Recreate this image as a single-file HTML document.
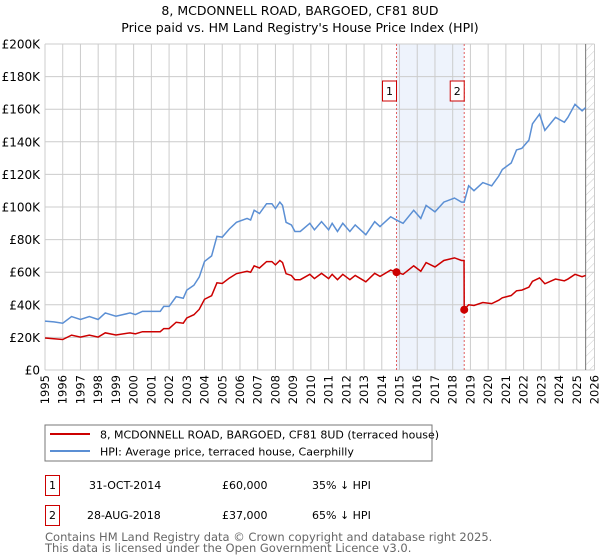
<!DOCTYPE html>
<html><head><meta charset="utf-8"><style>
body{margin:0;background:#fff;font-family:"DejaVu Sans","Liberation Sans",sans-serif;}
#wrap{position:relative;width:600px;height:560px;overflow:hidden;}
</style></head><body>
<div id="wrap">
<svg id="chart" width="600" height="560" xmlns="http://www.w3.org/2000/svg" font-family="DejaVu Sans, Liberation Sans, sans-serif">
<defs><pattern id="hatch" width="6" height="6" patternUnits="userSpaceOnUse" patternTransform="rotate(45)"><line x1="0" y1="0" x2="0" y2="6" stroke="#ccc" stroke-width="1"/></pattern></defs>
<text x="300" y="15" text-anchor="middle" font-size="12.5">8, MCDONNELL ROAD, BARGOED, CF81 8UD</text>
<text x="300" y="32" text-anchor="middle" font-size="12.5">Price paid vs. HM Land Registry's House Price Index (HPI)</text>
<g id="grid"></g><g id="series"></g><g id="axes"></g>
<rect x="45" y="425" width="387" height="36" fill="#fff" stroke="#777"/>
<line x1="50" y1="434" x2="90" y2="434" stroke="#cc0000" stroke-width="2"/>
<text x="100" y="438.5" font-size="11">8, MCDONNELL ROAD, BARGOED, CF81 8UD (terraced house)</text>
<line x1="50" y1="451" x2="90" y2="451" stroke="#5b8fd4" stroke-width="2"/>
<text x="100" y="455.5" font-size="11">HPI: Average price, terraced house, Caerphilly</text>
<g font-size="11">
<rect x="45.5" y="475.5" width="14" height="20" fill="#fff" stroke="#cc0000"/>
<text x="52.5" y="489" text-anchor="middle">1</text>
<text x="89" y="489">31-OCT-2014</text>
<text x="222" y="489">£60,000</text>
<text x="312" y="489">35% ↓ HPI</text>
<rect x="45.5" y="505.5" width="14" height="20" fill="#fff" stroke="#cc0000"/>
<text x="52.5" y="519" text-anchor="middle">2</text>
<text x="87" y="519">28-AUG-2018</text>
<text x="222" y="519">£37,000</text>
<text x="312" y="519">65% ↓ HPI</text>
</g>
<text x="45" y="541" font-size="11.5" fill="#666">Contains HM Land Registry data © Crown copyright and database right 2025.</text>
<text x="45" y="552" font-size="11.5" fill="#666">This data is licensed under the Open Government Licence v3.0.</text>
</svg>
</div>
<script>
const hpiYears=[1995,1995.5,1996,1996.5,1997,1997.5,1998,1998.4,1999,1999.8,2000.1,2000.5,2001.5,2001.7,2002,2002.4,2002.8,2003,2003.4,2003.7,2004,2004.4,2004.7,2005,2005.4,2005.8,2006.4,2006.6,2006.8,2007.1,2007.5,2007.8,2008,2008.25,2008.4,2008.6,2008.9,2009.1,2009.4,2009.94,2010.2,2010.6,2011,2011.2,2011.5,2011.8,2012.2,2012.5,2013.1,2013.6,2013.9,2014.5,2014.83,2015.2,2015.8,2016.2,2016.5,2017,2017.5,2018.1,2018.5,2018.65,2018.9,2019.2,2019.7,2020.2,2020.6,2020.8,2021.3,2021.6,2021.9,2022.3,2022.5,2022.9,2023.2,2023.8,2024.3,2024.5,2024.9,2025.3,2025.5];
const hpiValues=[30,29.5,28.7,32.8,31,32.8,31,35,33,35,34,36,36,39,39,45,44,49,52,57,66.6,70,82,81.5,86.5,90.6,93,92,98,96,102,102,99,103,101,90.6,89,85,85,90,86,91,86,90,85,90,85,89,83,91,88,94,92,90,98,93,101,97,103,105.5,103,103,113,110,115,113,119,123,127,135,136,141,151,157,147,155,152,155,163,159,161];
const priceYears=[1995,1995.5,1996,1996.5,1997,1997.5,1998,1998.4,1999,1999.8,2000.1,2000.5,2001.5,2001.7,2002,2002.4,2002.8,2003,2003.4,2003.7,2004,2004.4,2004.7,2005,2005.4,2005.8,2006.4,2006.6,2006.8,2007.1,2007.5,2007.8,2008,2008.25,2008.4,2008.6,2008.9,2009.1,2009.4,2009.94,2010.2,2010.6,2011,2011.2,2011.5,2011.8,2012.2,2012.5,2013.1,2013.6,2013.9,2014.5,2014.83,2015.2,2015.8,2016.2,2016.5,2017,2017.5,2018.1,2018.5,2018.64,2018.65,2018.9,2019.2,2019.7,2020.2,2020.6,2020.8,2021.3,2021.6,2021.9,2022.3,2022.5,2022.9,2023.2,2023.8,2024.3,2024.5,2024.9,2025.3,2025.5];
const priceValues=[19.6,19.2,18.7,21.4,20.2,21.4,20.2,22.8,21.5,22.8,22.2,23.5,23.5,25.4,25.4,29.3,28.7,31.9,33.9,37.2,43.4,45.6,53.5,53.1,56.4,59.1,60.6,60,63.9,62.6,66.5,66.5,64.5,67.2,65.9,59.1,58,55.4,55.4,58.7,56.1,59.3,56.1,58.7,55.4,58.7,55.4,58,54.1,59.3,57.4,61.3,60,58.7,63.9,60.6,65.9,63.2,67.2,68.8,67.2,67.2,37,40,39.6,41.4,40.7,42.8,44.3,45.7,48.6,49,50.8,54.4,56.5,52.9,55.8,54.7,55.8,58.7,57.2,58];
const saleYears=[2014.83,2018.65];
const saleValues=[60,37];
const saleLabels=["1","2"];
const yTicks=[0,20,40,60,80,100,120,140,160,180,200];
const xTicks=[];for(let y=1995;y<=2026;y++)xTicks.push(y);
const dataEnd=2025.5;

const X0=45,X1=594.5,Y0=370,Y1=44;
const xs=y=>X0+(y-1995)/(2026-1995)*(X1-X0);
const ys=v=>Y0-(v/200)*(Y0-Y1);
const NS="http://www.w3.org/2000/svg";
function mk(t,a,p){const e=document.createElementNS(NS,t);for(const k in a)e.setAttribute(k,a[k]);p.appendChild(e);return e;}
const grid=document.getElementById('grid'),ser=document.getElementById('series'),ax=document.getElementById('axes');

const band=mk('rect',{x:xs(saleYears[0]),y:Y1,width:xs(saleYears[1])-xs(saleYears[0]),height:Y0-Y1,fill:'#eef3fc'},grid);


const hat=mk('rect',{x:xs(dataEnd),y:Y1,width:X1-xs(dataEnd),height:Y0-Y1,fill:'url(#hatch)'},grid);


xTicks.forEach(t=>{const l=mk('line',{x1:xs(t),x2:xs(t),y1:Y1,y2:Y0,stroke:'#cccccc','stroke-width':1},grid);


const tx=mk('text',{x:0,y:0,'font-size':11.5,'text-anchor':'end',transform:`translate(${xs(t)+4},${Y0+5}) rotate(-90)`},ax);tx.textContent=t;

});
yTicks.forEach(t=>{const l=mk('line',{x1:X0,x2:X1,y1:ys(t),y2:ys(t),stroke:'#cccccc','stroke-width':1},grid);


const tx=mk('text',{x:X0-5,y:ys(t)+4.5,'font-size':12,'text-anchor':'end'},ax);tx.textContent=t===0?'£0':'£'+t+'K';

});
const el=mk('line',{x1:xs(dataEnd),x2:xs(dataEnd),y1:Y1,y2:Y0,stroke:'#777','stroke-width':1},grid);


saleYears.forEach((y,i)=>{const l=mk('line',{x1:xs(y),x2:xs(y),y1:Y1,y2:Y0,stroke:'#e06060','stroke-width':1,'stroke-dasharray':'2,2'},grid);


const r=mk('rect',{x:xs(y)-14,y:81,width:14,height:20,fill:'#fff',stroke:'#cc0000'},ax);


const t=mk('text',{x:xs(y)-7,y:95,'font-size':11,'text-anchor':'middle'},ax);t.textContent=saleLabels[i];

});
const hp=mk('polyline',{points:hpiYears.map((y,i)=>xs(y)+','+ys(hpiValues[i])).join(' '),fill:'none',stroke:'#5b8fd4','stroke-width':1.5},ser);


const pp=mk('polyline',{points:priceYears.map((y,i)=>xs(y)+','+ys(priceValues[i])).join(' '),fill:'none',stroke:'#cc0000','stroke-width':1.5},ser);


saleYears.forEach((y,i)=>{const c=mk('circle',{cx:xs(y),cy:ys(saleValues[i]),r:4,fill:'#cc0000'},ser);

});
</script>
</body></html>
